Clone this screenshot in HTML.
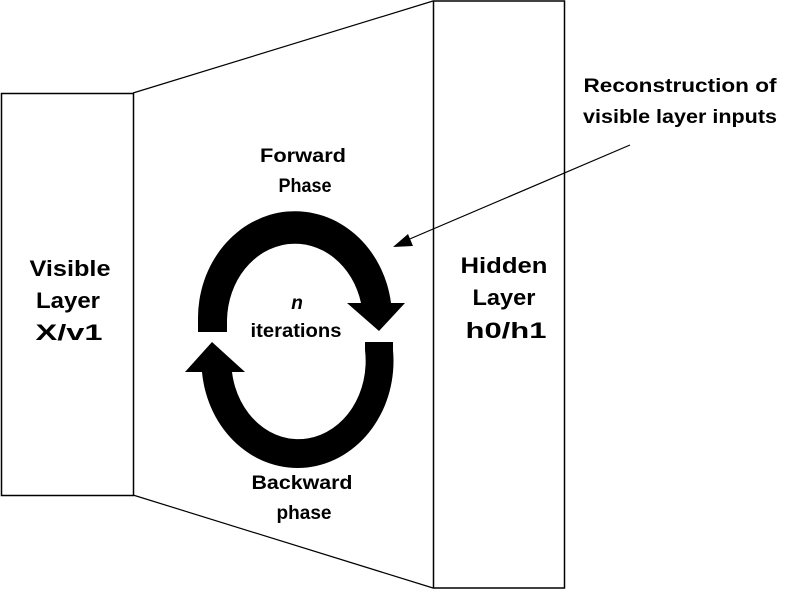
<!DOCTYPE html>
<html><head><style>
body{margin:0;background:#fff;width:811px;height:590px;overflow:hidden}
svg text{font-family:"Liberation Sans",Arial,sans-serif;font-weight:bold;text-anchor:middle;fill:#000}
</style></head><body>
<svg width="811" height="590" viewBox="0 0 811 590">
<rect x="1.5" y="93.5" width="132" height="402" fill="#fff" stroke="#000" stroke-width="1.5"/>
<rect x="433.5" y="1" width="131" height="587" fill="#fff" stroke="#000" stroke-width="1.5"/>
<line x1="133" y1="93" x2="433" y2="1" stroke="#000" stroke-width="1.2"/>
<line x1="133" y1="495" x2="433" y2="588" stroke="#000" stroke-width="1.2"/>
<path d="M198,332 L198,320 A97,107 0 0 1 391,303 L405,303 L379,331 L347,303 L361,303 A68,78 0 0 0 227,320 L227,332 Z" fill="#000"/>
<path d="M365,342 L393,342 L393,350 A96,107 0 0 1 202,372 L185,372 L212,342 L245,372 L232,372 A67,78 0 0 0 365,350 Z" fill="#000"/>
<line x1="630" y1="145" x2="405" y2="241" stroke="#000" stroke-width="1.2"/>
<polygon points="393,247 408,234 413,246" fill="#000"/>
<g font-size="22">
<text x="70" y="276" textLength="81" lengthAdjust="spacingAndGlyphs">Visible</text><text x="68" y="308" textLength="64" lengthAdjust="spacingAndGlyphs">Layer</text><text x="69" y="340" textLength="67" lengthAdjust="spacingAndGlyphs">X/v1</text>
<text x="504" y="273" textLength="87" lengthAdjust="spacingAndGlyphs">Hidden</text><text x="504" y="305" textLength="63" lengthAdjust="spacingAndGlyphs">Layer</text><text x="506" y="338" textLength="81" lengthAdjust="spacingAndGlyphs">h0/h1</text>
</g>
<g font-size="19">
<text x="303" y="162" textLength="86" lengthAdjust="spacingAndGlyphs">Forward</text><text x="305" y="192" textLength="53" lengthAdjust="spacingAndGlyphs">Phase</text>
<text x="302" y="489" textLength="101" lengthAdjust="spacingAndGlyphs">Backward</text><text x="304" y="519" textLength="55" lengthAdjust="spacingAndGlyphs">phase</text>
<text x="297" y="309" font-style="italic">n</text><text x="296" y="337" textLength="91" lengthAdjust="spacingAndGlyphs">iterations</text>
<text x="680" y="92" textLength="193" lengthAdjust="spacingAndGlyphs">Reconstruction of</text><text x="680" y="123" textLength="194" lengthAdjust="spacingAndGlyphs">visible layer inputs</text>
</g>
</svg>
</body></html>
